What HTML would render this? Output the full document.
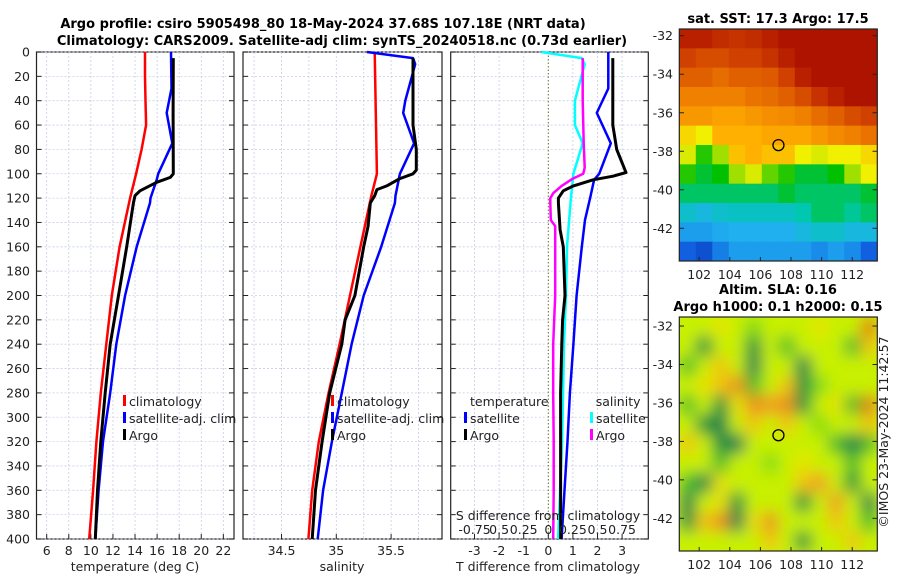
<!DOCTYPE html>
<html><head><meta charset="utf-8"><style>
body{margin:0;background:#fff}
svg{display:block;font-family:"DejaVu Sans","Liberation Sans",sans-serif}
.t{font-size:12.5px;fill:#222}
.b{font-size:13px;font-weight:bold;fill:#000}
</style></head><body>
<svg id="c" width="900" height="580" viewBox="0 0 900 580" xmlns="http://www.w3.org/2000/svg">
<defs>
<clipPath id="cp1"><rect x="679.3" y="29" width="198" height="232"/></clipPath>
<clipPath id="cp2"><rect x="679.3" y="317" width="198" height="234"/></clipPath>
<filter id="bl" x="-10%" y="-10%" width="120%" height="120%"><feGaussianBlur stdDeviation="7.5"/></filter>
</defs>
<text class="b" x="323" y="28" text-anchor="middle">Argo profile: csiro 5905498_80 18-May-2024 37.68S 107.18E (NRT data)</text>
<text class="b" x="342" y="45" text-anchor="middle">Climatology: CARS2009. Satellite-adj clim: synTS_20240518.nc (0.73d earlier)</text>
<g id="g"></g>
<text x="888" y="432" transform="rotate(-90 888 432)" text-anchor="middle" class="t">©IMOS 23-May-2024 11:42:57</text>
</svg>
<script>
// ---- profile data ----
const dTClim=[0,20,40,60,80,100,120,160,200,240,280,320,360,400];
const tClim=[14.9,14.9,14.95,15.0,14.6,14.1,13.55,12.6,11.9,11.4,10.9,10.5,10.2,9.85];
const dTSat=[0,30,50,75,100,105,120,124,160,200,240,280,320,360,400];
const tSat=[17.26,17.3,16.87,17.38,16.1,15.96,15.4,15.36,14.15,13.1,12.3,11.75,11.1,10.7,10.4];
const dTArgo=[5,50,100,103,107,114,118,124,160,200,240,280,320,360,400];
const tArgo=[17.47,17.45,17.47,17.2,15.96,14.45,14.0,13.85,13.25,12.5,11.75,11.3,10.9,10.6,10.4];
const dSClim=[0,100,118,160,200,240,280,320,360,400];
const sClim=[35.35,35.37,35.32,35.22,35.125,35.03,34.93,34.84,34.78,34.745];
const dSSat=[0,5,10,40,50,75,100,118,124,160,200,240,280,320,360,400];
const sSat=[35.28,35.70,35.72,35.63,35.61,35.71,35.58,35.54,35.535,35.41,35.25,35.14,35.05,34.96,34.88,34.83];
const dSArgo=[5,20,60,80,97,100,104,110,113,118,124,143,160,200,220,240,280,320,360,400];
const sArgo=[35.70,35.70,35.70,35.73,35.73,35.70,35.58,35.46,35.37,35.35,35.31,35.29,35.25,35.17,35.08,35.05,34.94,34.87,34.81,34.78];
const dSDSat=[0,5,10,40,60,75,100,120,160,200,240,280,320,360,400];
const sDiffSat=[-0.07,0.34,0.37,0.27,0.27,0.35,0.255,0.23,0.19,0.18,0.16,0.15,0.14,0.12,0.10];
const dSDArgo=[5,40,75,95,100,104,110,116,120,124,138,143,160,200,240,280,320,360,400];
const sDiffArgo=[0.35,0.35,0.36,0.37,0.355,0.25,0.135,0.05,0.02,0.02,0.025,0.07,0.07,0.07,0.05,0.05,0.055,0.055,0.05];
const dTDSat=[0,30,50,75,100,105,120,138,160,200,240,280,320,360,400];
const tDiffSat=[2.44,2.44,1.97,2.54,2.07,1.86,1.7,1.49,1.36,1.15,1.02,0.88,0.78,0.66,0.54];
const dTDArgo=[5,20,60,80,90,99,102,105,110,114,120,124,146,160,200,220,240,280,320,360,400];
const tDiffArgo=[2.62,2.62,2.62,2.78,2.98,3.16,2.63,1.82,1.02,0.61,0.41,0.41,0.48,0.61,0.68,0.58,0.55,0.5,0.5,0.5,0.5];
const depthTicks=[0,20,40,60,80,100,120,140,160,180,200,220,240,260,280,300,320,340,360,380,400];
const tTicks=[6,8,10,12,14,16,18,20,22];
const sTicks=[34.5,35,35.5];
const sGrid=[34.25,34.5,34.75,35,35.25,35.5,35.75];
const dTicks=[-3,-2,-1,0,1,2,3];
const sdTicks=[-0.75,-0.5,-0.25,0,0.25,0.5,0.75];
const sdLabels=["-0.75","0.5","0.25","0","0.25","0.5","0.75"];
// ---- map data (12x12, rows top->bottom) ----
const lonTicks=[102,104,106,108,110,112];
const latTicks=[-32,-34,-36,-38,-40,-42];
const argoLon=107.18, argoLat=-37.68;
const sst=[
[.95,.95,.93,.92,.93,.95,.97,.97,.97,.97,.97,.97],
[.9,.88,.88,.9,.9,.92,.95,.97,.97,.97,.97,.97],
[.85,.85,.83,.85,.85,.86,.9,.95,.97,.97,.97,.97],
[.8,.8,.8,.8,.82,.83,.85,.88,.92,.95,.97,.97],
[.75,.75,.73,.73,.75,.77,.78,.8,.83,.85,.88,.9],
[.65,.62,.7,.7,.7,.72,.72,.72,.75,.78,.8,.82],
[.6,.45,.55,.68,.7,.68,.68,.62,.6,.62,.62,.65],
[.45,.4,.42,.55,.6,.5,.45,.4,.4,.42,.55,.62],
[.38,.38,.38,.38,.38,.38,.4,.38,.38,.38,.38,.4],
[.32,.3,.32,.33,.33,.33,.33,.35,.38,.38,.36,.38],
[.25,.25,.27,.28,.28,.28,.28,.3,.32,.32,.3,.3],
[.15,.12,.2,.25,.25,.25,.25,.25,.22,.25,.22,.15]];
const sla=[
[.5,.5,.55,.5,.45,.5,.5,.5,.55,.5,.5,.8],
[.5,.3,.5,.5,.3,.5,.4,.5,.5,.5,.4,.6],
[.4,.5,.6,.5,.2,.5,.5,.2,.5,.5,.5,.5],
[.5,.55,.6,.7,.4,.5,.6,.3,.45,.5,.5,.5],
[.4,.5,.3,.55,.7,.65,.7,.3,.5,.55,.4,.8],
[.5,.3,.2,.5,.6,.5,.6,.5,.45,.5,.5,.6],
[.6,.5,.3,.1,.5,.5,.5,.5,.5,.4,.2,.4],
[.5,.5,.4,.5,.5,.45,.5,.55,.5,.5,.4,.5],
[.4,.2,.55,.5,.5,.5,.5,.6,.65,.5,.3,.5],
[.2,.5,.55,.3,.5,.5,.5,.3,.5,.65,.5,.2],
[.3,.6,.7,.2,.55,.7,.5,.5,.5,.6,.5,.4],
[.5,.5,.5,.5,.5,.6,.5,.3,.5,.5,.6,.5]];

const NS='http://www.w3.org/2000/svg';
const G=document.getElementById('g');
function el(tag,at,txt){const e=document.createElementNS(NS,tag);for(const k in at)e.setAttribute(k,at[k]);if(txt!==undefined)e.textContent=txt;G.appendChild(e);return e;}
const yD=d=>52+d*1.2175;
const xT=v=>46.7+(v-6)*11.04;
const xS=v=>336.3+(v-35)*109.6;
const xDT=v=>548.3+v*24.6;
const xDS=v=>548.3+v*4*24.6;
const TOP=52,BOT=539;
function panel(x0,x1,name){
  const r=el('rect',{x:x0,y:TOP,width:x1-x0,height:BOT-TOP,fill:'none',stroke:'#222','stroke-width':1.2});
  
  
  depthTicks.forEach(d=>{
    const y=yD(d);
    const l=el('line',{x1:x0,x2:x1,y1:y,y2:y,stroke:'#c8cde8','stroke-width':0.8,'stroke-dasharray':'2,2'});
    
    
    const a=el('line',{x1:x0,x2:x0+5,y1:y,y2:y,stroke:'#222'});
    
    
    const b=el('line',{x1:x1-5,x2:x1,y1:y,y2:y,stroke:'#222'});
    
    
  });
}
function vgrid(vals,fx,name){vals.forEach(v=>{const x=fx(v);const l=el('line',{x1:x,x2:x,y1:TOP,y2:BOT,stroke:'#c8cde8','stroke-width':0.8,'stroke-dasharray':'2,2'});
  
  });}
function xlabels(vals,fx,labels,name){vals.forEach((v,i)=>{const x=fx(v);
  const tk=el('line',{x1:x,x2:x,y1:BOT-5,y2:BOT,stroke:'#222'});
  
  
  const t=el('text',{x:x,y:555,'text-anchor':'middle',class:'t'},labels?labels[i]:String(v));
  
  });}
function line(ds,vs,fx,color,w,name){
  const p=ds.map((d,i)=>fx(vs[i]).toFixed(1)+','+yD(d).toFixed(1)).join(' ');
  const e=el('polyline',{points:p,fill:'none',stroke:color,'stroke-width':w,'stroke-linejoin':'round'});
  
  
}
function leg(x,y,color,txt,name){
  const m=el('rect',{x:x,y:y-6,width:3,height:11,fill:color});
  
  
  const t=el('text',{x:x+6,y:y+5,class:'t'},txt);
  
  
}
// panel 1
panel(36.5,234,'temperature-panel');
vgrid(tTicks,xT,'temperature');
depthTicks.forEach(d=>{const t=el('text',{x:30,y:yD(d)+4.5,'text-anchor':'end',class:'t'},String(d));
  
  });
xlabels(tTicks,xT,null,'temperature');
line(dTClim,tClim,xT,'#f00',2.5,'temperature-climatology-line');
line(dTSat,tSat,xT,'#00f',2.5,'temperature-satellite-line');
line(dTArgo,tArgo,xT,'#000',3,'temperature-argo-line');
leg(123,401,'#f00','climatology','legend-climatology');
leg(123,418,'#00f','satellite-adj. clim','legend-satellite-adj');
leg(123,435,'#000','Argo','legend-argo');
let t=el('text',{x:135,y:571,'text-anchor':'middle',class:'t'},'temperature (deg C)');


// panel 2
panel(243,442,'salinity-panel');
vgrid(sGrid,xS,'salinity');
xlabels(sTicks,xS,null,'salinity');
line(dSClim,sClim,xS,'#f00',2.5,'salinity-climatology-line');
line(dSSat,sSat,xS,'#00f',2.5,'salinity-satellite-line');
line(dSArgo,sArgo,xS,'#000',3,'salinity-argo-line');
leg(331,401,'#f00','climatology','legend-s-climatology');
leg(331,418,'#00f','satellite-adj. clim','legend-s-satellite-adj');
leg(331,435,'#000','Argo','legend-s-argo');
t=el('text',{x:342,y:571,'text-anchor':'middle',class:'t'},'salinity');


// panel 3
panel(450.7,648.3,'difference-panel');
vgrid(dTicks.filter(v=>v!==0),xDT,'difference');
const z=el('line',{x1:xDT(0),x2:xDT(0),y1:TOP,y2:BOT,stroke:'#6a6a30','stroke-width':1,'stroke-dasharray':'1.5,2'});


xlabels(dTicks,xDT,null,'t-difference');
line(dSDSat,sDiffSat,xDS,'#0ff',2.5,'s-diff-satellite-line');
line(dSDArgo,sDiffArgo,xDS,'#f0f',2.5,'s-diff-argo-line');
line(dTDSat,tDiffSat,xDT,'#00f',2.5,'t-diff-satellite-line');
line(dTDArgo,tDiffArgo,xDT,'#000',3,'t-diff-argo-line');
t=el('text',{x:470,y:406,class:'t'},'temperature');


t=el('text',{x:595.7,y:406,class:'t'},'salinity');


leg(464,418,'#00f','satellite','legend-t-satellite');
leg(464,435,'#000','Argo','legend-t-argo');
leg(590,418,'#0ff','satellite','legend-s-satellite');
leg(590,435,'#f0f','Argo','legend-s-argo-diff');
t=el('text',{x:548,y:520,'text-anchor':'middle',class:'t'},'S difference from climatology');


sdTicks.forEach((v,i)=>{const tt=el('text',{x:xDS(v),y:534,'text-anchor':'middle',class:'t'},sdLabels[i]);
  
  });
t=el('text',{x:548,y:571,'text-anchor':'middle',class:'t'},'T difference from climatology');


// ---- maps ----
function interp(stops,v){v=Math.max(0,Math.min(1,v));for(let i=1;i<stops.length;i++){if(v<=stops[i][0]){const a=stops[i-1],b=stops[i];const f=(v-a[0])/(b[0]-a[0]);
  const ca=a[1].match(/\w\w/g).map(h=>parseInt(h,16)),cb=b[1].match(/\w\w/g).map(h=>parseInt(h,16));
  return 'rgb('+ca.map((c,k)=>Math.round(c+(cb[k]-c)*f)).join(',')+')';}}return '#'+stops[stops.length-1][1];}
const sstPal=[[0,'001090'],[.15,'1060e0'],[.28,'20b0f0'],[.35,'00c8b0'],[.42,'00c000'],[.55,'a0e000'],[.62,'f0f000'],[.7,'ffb000'],[.8,'f08000'],[.9,'d04000'],[1,'a00000']];
const slaPal=[[0,'0a7a50'],[.2,'109040'],[.32,'30b030'],[.42,'80d818'],[.5,'c8f000'],[.6,'f0e000'],[.72,'f0a020'],[1,'e07010']];
const LON0=100.7,LON1=113.64;
function map(top,bot,latTopV,latBotV,grid,pal,clip,blur,name){
  const xL=v=>679.3+(v-LON0)/(LON1-LON0)*198;
  const yL=v=>top+(latTopV-v)/(latTopV-latBotV)*(bot-top);
  const grp=document.createElementNS(NS,'g');grp.setAttribute('clip-path','url(#'+clip+')');
  
  
  G.appendChild(grp);
  const inner=document.createElementNS(NS,'g');if(blur)inner.setAttribute('filter','url(#bl)');grp.appendChild(inner);
  const R=grid.length,C=grid[0].length,cw=198/C,ch=(bot-top)/R;
  if(blur){const bg=document.createElementNS(NS,'rect');bg.setAttribute('x',660);bg.setAttribute('y',top-20);bg.setAttribute('width',240);bg.setAttribute('height',bot-top+40);bg.setAttribute('fill','#c8f000');inner.appendChild(bg);}
  grid.forEach((row,r)=>row.forEach((v,c)=>{const e=document.createElementNS(NS,'rect');
    const vv=blur?0.5+(v-0.5)*1.5:v;
    e.setAttribute('x',(679.3+c*cw).toFixed(2));e.setAttribute('y',(top+r*ch).toFixed(2));
    e.setAttribute('width',(cw+(blur?0:0.6)).toFixed(2));e.setAttribute('height',(ch+(blur?0:0.6)).toFixed(2));e.setAttribute('fill',interp(pal,vv));
    
    
    inner.appendChild(e);}));
  const f=el('rect',{x:679.3,y:top,width:198,height:bot-top,fill:'none',stroke:'#222','stroke-width':1.2});
  
  
  latTicks.forEach(v=>{const y=yL(v);
    const a=el('line',{x1:679.3,x2:684,y1:y,y2:y,stroke:'#222'});
    const b=el('line',{x1:872.5,x2:877.3,y1:y,y2:y,stroke:'#222'});
    const tt=el('text',{x:673,y:y+4.5,'text-anchor':'end',class:'t'},String(v));
    
    });
  lonTicks.forEach(v=>{const x=xL(v);
    const a=el('line',{x1:x,x2:x,y1:bot-4,y2:bot,stroke:'#222'});
    const tt=el('text',{x:x,y:bot+18,'text-anchor':'middle',class:'t'},String(v));
    
    });
  const ci=el('circle',{cx:xL(argoLon),cy:yL(argoLat),r:5.5,fill:'none',stroke:'#000','stroke-width':1.3});
  
  
}
map(29,261,-31.65,-43.7,sst,sstPal,'cp1',false,'sst-map');
map(317,551,-31.53,-43.7,sla,slaPal,'cp2',true,'sla-map');
t=el('text',{x:778,y:23,'text-anchor':'middle',class:'b'},'sat. SST: 17.3 Argo: 17.5');


t=el('text',{x:778,y:294,'text-anchor':'middle',class:'b'},'Altim. SLA: 0.16');


t=el('text',{x:778,y:311,'text-anchor':'middle',class:'b'},'Argo h1000: 0.1 h2000: 0.15');


</script>
</body></html>
